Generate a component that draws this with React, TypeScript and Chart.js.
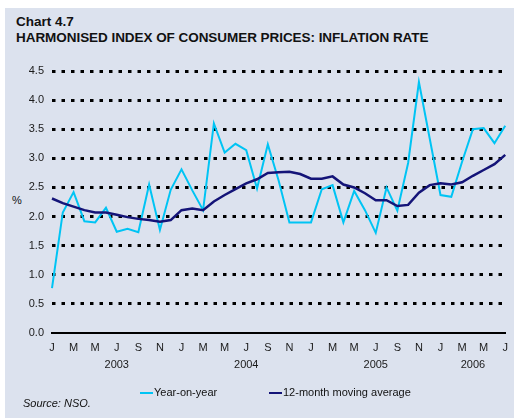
import React, { useEffect, useRef } from "react";
import { Chart, registerables } from "chart.js";

Chart.register(...registerables);

const monthLetters = ["J", "F", "M", "A", "M", "J", "J", "A", "S", "O", "N", "D"];
const startYear = 2003;
const monthCount = 43;
const yearLabels: Record<number, string> = { 6: "2003", 18: "2004", 30: "2005", 39: "2006" };
const yTicks = [0, 0.5, 1, 1.5, 2, 2.5, 3, 3.5, 4, 4.5];

const yearOnYear = [
  0.77, 2.07, 2.42, 1.92, 1.9, 2.15, 1.74, 1.79, 1.73, 2.55, 1.77, 2.46,
  2.81, 2.45, 2.11, 3.6, 3.1, 3.25, 3.14, 2.48, 3.24, 2.62, 1.9, 1.9,
  1.9, 2.47, 2.54, 1.9, 2.44, 2.11, 1.72, 2.5, 2.1, 2.92, 4.31, 3.34,
  2.37, 2.34, 2.94, 3.5, 3.52, 3.26, 3.56,
];
const movingAverage = [
  2.31, 2.23, 2.17, 2.11, 2.07, 2.07, 2.03, 1.99, 1.96, 1.94, 1.91, 1.94,
  2.11, 2.14, 2.11, 2.26, 2.37, 2.47, 2.57, 2.64, 2.75, 2.76, 2.77, 2.73,
  2.65, 2.65, 2.69, 2.55, 2.5, 2.4, 2.28, 2.28, 2.18, 2.2, 2.41, 2.54,
  2.57, 2.55, 2.59, 2.7, 2.8, 2.9, 3.06,
];

const categories = Array.from({ length: monthCount }, (_, i) => {
  const y = startYear + Math.floor(i / 12);
  return `${monthLetters[i % 12]}-${y}`;
});

const FONT = "'Liberation Sans', Arial, Helvetica, sans-serif";
const CYAN = "#00c4f4";
const NAVY = "#141478";

export default function App() {
  const ref = useRef<HTMLCanvasElement | null>(null);

  useEffect(() => {
    if (!ref.current) return;
    const chart = new Chart(ref.current, {
      type: "line",
      data: {
        labels: categories,
        datasets: [
          {
            label: "Year-on-year",
            data: yearOnYear,
            borderColor: CYAN,
            backgroundColor: CYAN,
            borderWidth: 2,
            pointRadius: 0,
            tension: 0,
            order: 1,
          },
          {
            label: "12-month moving average",
            data: movingAverage,
            borderColor: NAVY,
            backgroundColor: NAVY,
            borderWidth: 2.5,
            pointRadius: 0,
            tension: 0,
            order: 0,
          },
        ],
      },
      options: {
        responsive: false,
        animation: false,
        devicePixelRatio: 1,
        layout: { padding: { left: 0, top: 71, right: 2, bottom: 40 } },
        plugins: { legend: { display: false }, tooltip: { enabled: false } },
        scales: {
          x: {
            type: "category",
            offset: false,
            grid: { display: false, drawTicks: false },
            border: { display: true, color: "#000", width: 2 },
            ticks: {
              autoSkip: false,
              maxRotation: 0,
              minRotation: 0,
              padding: 6,
              color: "#1a1a1a",
              font: { family: FONT, size: 11, lineHeight: 1.55 },
              callback: (_v: any, i: number) => {
                const m = i % 2 === 0 ? monthLetters[i % 12] : "";
                if (yearLabels[i]) return [m, yearLabels[i]];
                return m;
              },
            },
            afterFit: (s: any) => {
              s.height = 45;
            },
          },
          y: {
            min: 0,
            max: 4.5,
            afterBuildTicks: (s: any) => {
              s.ticks = yTicks.map((v) => ({ value: v }));
            },
            grid: {
              drawTicks: false,
              lineWidth: 3,
              color: (c: any) => (c.tick && c.tick.value === 0 ? "rgba(0,0,0,0)" : "#000"),
            },
            border: { display: false, dash: [3.5, 6] },
            ticks: {
              padding: 8,
              color: "#1a1a1a",
              font: { family: FONT, size: 11 },
              callback: (v: any) => Number(v).toFixed(1),
            },
            afterFit: (s: any) => {
              s.width = 52;
            },
          },
        },
      },
    });
    return () => chart.destroy();
  }, []);

  const txt: React.CSSProperties = { position: "absolute", fontFamily: FONT, color: "#111", whiteSpace: "nowrap" };

  return (
    <div style={{ position: "absolute", left: 0, top: 0, width: 514, height: 418, overflow: "hidden" }}>
      <div style={{ position: "absolute", left: 5, top: 8, width: 509, height: 410, background: "#dce2ee" }} />
      <div style={{ ...txt, left: 16, top: 14, fontSize: 13.5, fontWeight: "bold" }}>Chart 4.7</div>
      <div style={{ ...txt, left: 16, top: 30, fontSize: 13.5, fontWeight: "bold", letterSpacing: -0.05 }}>
        HARMONISED INDEX OF CONSUMER PRICES: INFLATION RATE
      </div>
      <div style={{ ...txt, left: 12, top: 194, fontSize: 11 }}>%</div>
      <canvas ref={ref} width={514} height={418} style={{ position: "absolute", left: 0, top: 0 }} />
      <div style={{ position: "absolute", left: 140, top: 392, width: 13, height: 2, background: CYAN }} />
      <div style={{ ...txt, left: 154, top: 386, fontSize: 11 }}>Year-on-year</div>
      <div style={{ position: "absolute", left: 269, top: 392, width: 13, height: 2, background: NAVY }} />
      <div style={{ ...txt, left: 283, top: 386, fontSize: 11 }}>12-month moving average</div>
      <div style={{ ...txt, left: 23, top: 397, fontSize: 11, fontStyle: "italic" }}>Source: NSO.</div>
    </div>
  );
}
